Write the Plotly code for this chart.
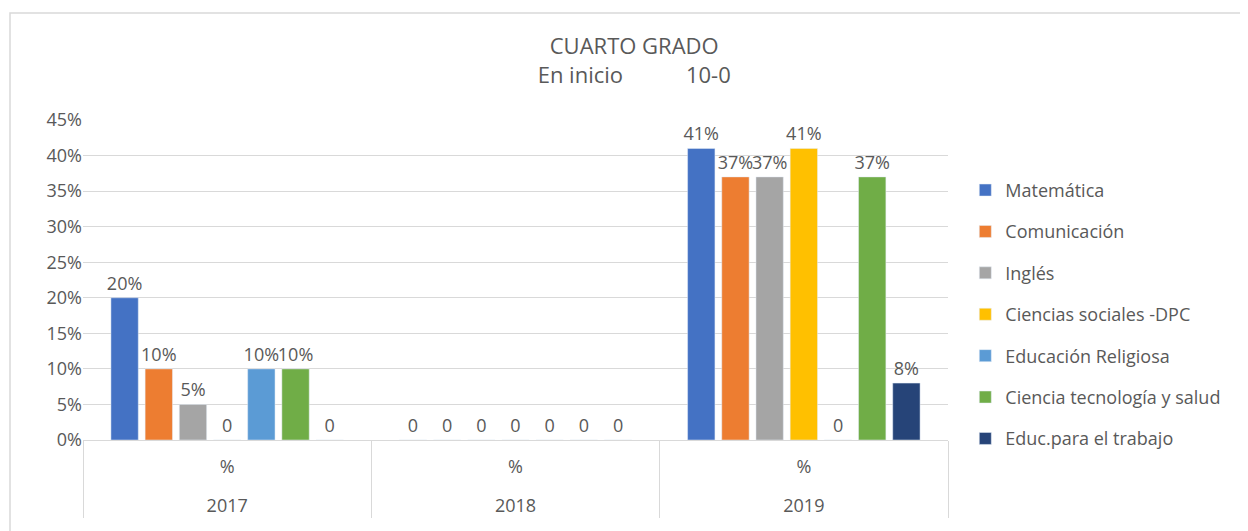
import plotly.graph_objects as go

years = ["<br>2017", "<br>2018", "<br>2019"]
inner = ["%", "%", "%"]
series_names = ["Matemática", "Comunicación", "Inglés", "Ciencias sociales -DPC",
                "Educación Religiosa", "Ciencia tecnología y salud", "Educ.para el trabajo"]
colors = ["#4472C4", "#ED7D31", "#A5A5A5", "#FFC000", "#5B9BD5", "#70AD47", "#264478"]
values = [
    [0.20, 0.0, 0.41],
    [0.10, 0.0, 0.37],
    [0.05, 0.0, 0.37],
    [0.0, 0.0, 0.41],
    [0.10, 0.0, 0.0],
    [0.10, 0.0, 0.37],
    [0.0, 0.0, 0.08],
]

FONT = "Open Sans"
GREY = "#595959"

def lab(v):
    return "0" if v == 0 else f"{round(v*100)}%"

fig = go.Figure()
for i, (name, col, vals) in enumerate(zip(series_names, colors, values)):
    fig.add_trace(go.Bar(
        x=[years, inner], y=vals, name=name, marker_color=col,
        text=[lab(v) for v in vals], textposition="outside", cliponaxis=False,
        constraintext="none",
        textfont=dict(family=FONT, size=18, color=GREY),
        legendgroup=f"g{i}",
    ))

# page has an 8px body margin; compensate
W, H = 1240, 523
fig.update_layout(
    width=W, height=H,
    paper_bgcolor="white", plot_bgcolor="white",
    margin=dict(l=75, r=300, t=112, b=91, autoexpand=False),
    barmode="group", bargap=0.17, bargroupgap=0.2,
    title=dict(text="CUARTO GRADO<br>En inicio           10-0", x=0.505, xanchor="center",
               y=0.912, yanchor="top",
               font=dict(family=FONT, size=22, color=GREY)),
    font=dict(family=FONT, size=18, color=GREY),
    legend=dict(x=1.02, y=0.838, xanchor="left", yanchor="top",
                font=dict(family=FONT, size=18, color=GREY),
                tracegroupgap=15, itemwidth=30),
    showlegend=True,
)
fig.update_yaxes(range=[0, 0.45], dtick=0.05, tickformat=".0%", showgrid=True,
                 gridcolor="#D9D9D9", gridwidth=1, zeroline=False, showline=False,
                 ticks="", tickfont=dict(family=FONT, size=18, color=GREY))
fig.update_xaxes(showline=True, linecolor="#D9D9D9", linewidth=1,
                 showdividers=True, dividercolor="#D9D9D9", dividerwidth=1,
                 ticks="", ticklabelstandoff=10,
                 tickfont=dict(family=FONT, size=18, color=GREY))

fig.add_shape(type="rect", xref="paper", yref="paper",
              x0=-0.0844, x1=1.36, y0=-0.32, y1=1.334,
              line=dict(color="#D9D9D9", width=1.5), fillcolor="rgba(0,0,0,0)", layer="below")

fig.write_html("out.html")
